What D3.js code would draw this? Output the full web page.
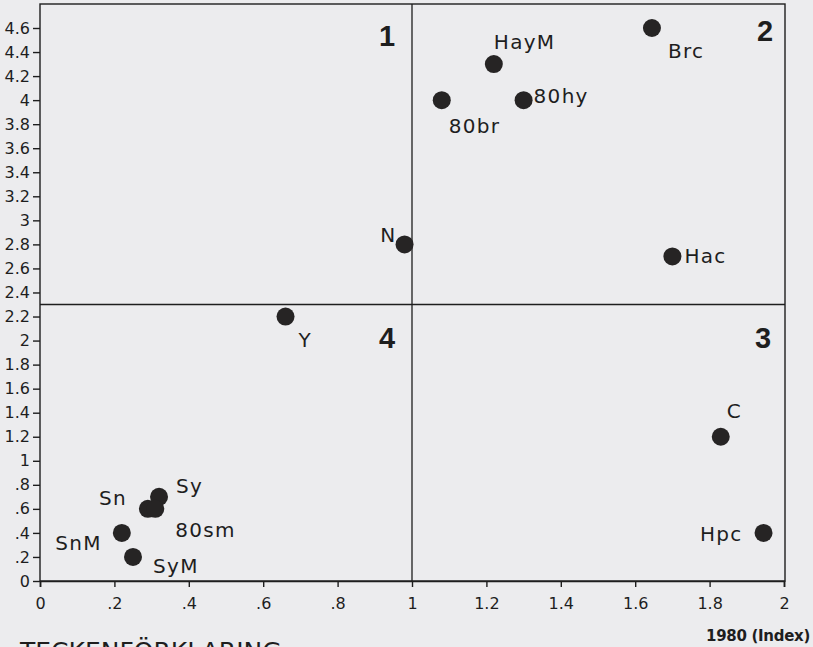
<!DOCTYPE html>
<html>
<head>
<meta charset="utf-8">
<script src="https://cdn.jsdelivr.net/npm/d3@7/dist/d3.min.js"></script>
<style>
  html, body { margin: 0; padding: 0; background: #ececee; overflow: hidden; }
  svg { display: block; }
  text { font-family: "DejaVu Sans", "Liberation Sans", Arial, sans-serif; fill: #1e1e1e; }
</style>
</head>
<body>
<svg id="chart" width="813" height="647"></svg>
<script>
// ---- data ----
const names   = ["HayM", "80br", "80hy", "Brc", "Hac", "N", "Y", "C", "Hpc", "Sy", "Sn", "80sm", "SnM", "SyM"];
const xValues = [1.22, 1.08, 1.30, 1.645, 1.70, 0.98, 0.66, 1.83, 1.945, 0.32, 0.29, 0.31, 0.22, 0.25];
const yValues = [4.3, 4.0, 4.0, 4.6, 2.7, 2.8, 2.2, 1.2, 0.4, 0.7, 0.6, 0.6, 0.4, 0.2];
const xTickValues = [0, 0.2, 0.4, 0.6, 0.8, 1, 1.2, 1.4, 1.6, 1.8, 2];
const xTickLabels = ["0", ".2", ".4", ".6", ".8", "1", "1.2", "1.4", "1.6", "1.8", "2"];
const yTickValues = [0, 0.2, 0.4, 0.6, 0.8, 1, 1.2, 1.4, 1.6, 1.8, 2, 2.2, 2.4, 2.6, 2.8, 3, 3.2, 3.4, 3.6, 3.8, 4, 4.2, 4.4, 4.6];
const yTickLabels = ["0", ".2", ".4", ".6", ".8", "1", "1.2", "1.4", "1.6", "1.8", "2", "2.2", "2.4", "2.6", "2.8", "3", "3.2", "3.4", "3.6", "3.8", "4", "4.2", "4.4", "4.6"];
const quadrantLabels = ["1", "2", "3", "4"];
const xDivider = 1;
const yDivider = 2.3;
const xAxisTitle = "1980 (Index)";
const legendTitle = "TECKENFÖRKLARING";

// ---- layout (label placement relative to point) ----
const labelPlacement = {
  "HayM": {dx: 0, dy: -15, anchor: "start"},
  "80br": {dx: 7, dy: 33, anchor: "start"},
  "80hy": {dx: 10, dy: 3, anchor: "start"},
  "Brc":  {dx: 16, dy: 30, anchor: "start"},
  "Hac":  {dx: 12, dy: 7, anchor: "start"},
  "N":    {dx: -8, dy: -2, anchor: "end"},
  "Y":    {dx: 13, dy: 30, anchor: "start"},
  "C":    {dx: 6, dy: -19, anchor: "start"},
  "Hpc":  {dx: -21, dy: 8, anchor: "end"},
  "Sy":   {dx: 17, dy: -4, anchor: "start"},
  "Sn":   {dx: -21, dy: -4, anchor: "end"},
  "80sm": {dx: 20, dy: 28, anchor: "start"},
  "SnM":  {dx: -20, dy: 17, anchor: "end"},
  "SyM":  {dx: 20, dy: 16, anchor: "start"}
};

const svg = d3.select("#chart");
const mLeft = 40, mRight = 785, mTop = 4, mBottom = 581;

const x = d3.scaleLinear().domain([0, 2]).range([mLeft, 784]);
const y = d3.scaleLinear().domain([0, 4.6]).range([mBottom, 28]);

const ink = "#1e1e1e";
const tickFont = '"DejaVu Sans", "Liberation Sans", Arial, sans-serif';

// frame
svg.append("rect")
  .attr("x", mLeft).attr("y", mTop)
  .attr("width", mRight - mLeft).attr("height", mBottom - mTop)
  .attr("fill", "none").attr("stroke", ink).attr("stroke-width", 1.4);

// dividers
svg.append("line")
  .attr("x1", x(xDivider)).attr("x2", x(xDivider))
  .attr("y1", mTop).attr("y2", mBottom)
  .attr("stroke", ink).attr("stroke-width", 1.3);
svg.append("line")
  .attr("x1", mLeft).attr("x2", mRight)
  .attr("y1", y(yDivider)).attr("y2", y(yDivider))
  .attr("stroke", ink).attr("stroke-width", 1.3);

// axes
const xAxis = d3.axisBottom(x)
  .tickValues(xTickValues)
  .tickFormat((d, i) => xTickLabels[i])
  .tickSize(6).tickPadding(11);
const gx = svg.append("g").attr("transform", `translate(0,${mBottom})`).call(xAxis);
gx.attr("font-size", null).attr("font-family", null);
gx.select(".domain").attr("stroke", ink).attr("stroke-width", 1.6);
gx.selectAll(".tick line").attr("stroke", ink).attr("stroke-width", 1.4);
gx.selectAll(".tick text").attr("fill", ink)
  .style("font-size", "16px").style("font-family", tickFont);

const yAxis = d3.axisLeft(y)
  .tickValues(yTickValues)
  .tickFormat((d, i) => yTickLabels[i])
  .tickSize(7).tickPadding(3);
const gy = svg.append("g").attr("transform", `translate(${mLeft},0)`).call(yAxis);
gy.attr("font-size", null).attr("font-family", null);
gy.select(".domain").remove();
gy.selectAll(".tick line").attr("stroke", ink).attr("stroke-width", 1.4);
gy.selectAll(".tick text").attr("fill", ink)
  .style("font-size", "16px").style("font-family", tickFont);

// quadrant labels
const qx = [387, 765, 763, 387];
const qy = [36, 31, 338, 338];
svg.selectAll(".quad").data(quadrantLabels).join("text")
  .attr("class", "quad")
  .attr("x", (d, i) => qx[i]).attr("y", (d, i) => qy[i])
  .attr("text-anchor", "middle").attr("dominant-baseline", "central")
  .style("font-family", '"Liberation Sans", Arial, sans-serif')
  .style("font-size", "29px").style("font-weight", "bold")
  .text(d => d);

// points
const pts = names.map((n, i) => ({name: n, x: xValues[i], y: yValues[i]}));
svg.selectAll(".pt").data(pts).join("circle")
  .attr("class", "pt")
  .attr("cx", d => x(d.x)).attr("cy", d => y(d.y))
  .attr("r", 9).attr("fill", "#262424");

// point labels
svg.selectAll(".lbl").data(pts).join("text")
  .attr("class", "lbl")
  .attr("x", d => x(d.x) + labelPlacement[d.name].dx)
  .attr("y", d => y(d.y) + labelPlacement[d.name].dy)
  .attr("text-anchor", d => labelPlacement[d.name].anchor)
  .style("font-size", "20px").style("letter-spacing", "1.3px")
  .text(d => d.name);

// axis title
svg.append("text")
  .attr("x", 810).attr("y", 641)
  .attr("text-anchor", "end")
  .style("font-size", "15px").style("font-weight", "bold")
  .style("letter-spacing", "-0.3px")
  .text(xAxisTitle);

// legend title (cut at bottom, as in the reference)
svg.append("text")
  .attr("x", 20).attr("y", 660)
  .style("font-size", "25px")
  .text(legendTitle);
</script>
</body>
</html>
